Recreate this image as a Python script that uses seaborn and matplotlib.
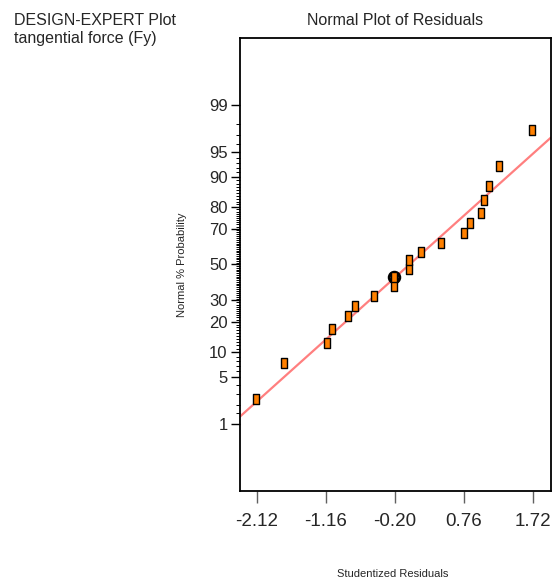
import numpy as np
import pandas as pd
import matplotlib
matplotlib.use("Agg")
import matplotlib.pyplot as plt
import seaborn as sns
from matplotlib.path import Path
from statistics import NormalDist

# studentized residuals (sorted) and their normal % probability
residuals = [-2.13, -1.74, -1.146, -1.077, -0.846, -0.757, -0.484, -0.214, -0.214, -0.001,
             -0.001, 0.170, 0.444, 0.760, 0.843, 1.005, 1.042, 1.108, 1.255, 1.706]
probability = [2.5, 7.5, 12.5, 17.5, 22.5, 27.5, 32.5, 37.5, 42.5, 47.5,
               52.5, 57.5, 62.5, 67.5, 72.5, 77.5, 82.5, 87.5, 92.5, 97.5]
highlight = 8  # circled run

# reference line end points
line_x = [-2.36, 1.975]
line_p = [1.31, 96.79]

x_ticks = [-2.12, -1.16, -0.20, 0.76, 1.72]
y_ticks = [1, 5, 10, 20, 30, 50, 70, 80, 90, 95, 99]
y_minor = [1.5, 2, 3, 4] + [p for p in range(6, 99) if p not in y_ticks]

sns.set_style("white")
plt.rcParams['font.family'] = ['Liberation Sans', 'DejaVu Sans']

nd = NormalDist()
_ppf = np.vectorize(lambda p: nd.inv_cdf(min(max(p / 100.0, 1e-9), 1 - 1e-9)), otypes=[float])
_cdf = np.vectorize(lambda z: nd.cdf(z) * 100.0, otypes=[float])


def fwd(p):
    return _ppf(np.asarray(p, dtype=float))


def inv(z):
    return _cdf(np.asarray(z, dtype=float))


df = pd.DataFrame({'res': residuals, 'prob': probability})
fit = pd.DataFrame({'res': line_x, 'prob': line_p})

fig = plt.figure(figsize=(5.55, 5.82), dpi=100)
ax = fig.add_axes([239.5 / 555, 91 / 582, 311.5 / 555, 453 / 582])
ax.set_yscale('function', functions=(fwd, inv))

rect = Path([(-0.62, -1), (0.62, -1), (0.62, 1), (-0.62, 1), (-0.62, -1)],
            [Path.MOVETO, Path.LINETO, Path.LINETO, Path.LINETO, Path.CLOSEPOLY])

sns.lineplot(data=fit, x='res', y='prob', ax=ax, color='#ff7f7f', linewidth=1.6,
             sort=False, estimator=None)
ax.plot(residuals[highlight], probability[highlight], marker='o', ms=7.5, mfc='none',
        mec='black', mew=2.2, zorder=3)
sns.scatterplot(data=df, x='res', y='prob', ax=ax, marker=rect, s=55,
                color='#ff8000', edgecolor='black', linewidth=1.0, zorder=4)

ax.set_xlim(-2.359, 1.975)
ax.set_ylim(0.0483, 99.9517)
ax.set_xticks(x_ticks)
ax.set_xticklabels([f"{t:.2f}" for t in x_ticks], fontsize=13.5)
ax.set_yticks(y_ticks)
ax.set_yticklabels([str(t) for t in y_ticks], fontsize=12)
ax.set_yticks(y_minor, minor=True)
ax.tick_params(axis='x', which='major', direction='out', length=8.5, width=1.0,
               color='#606060', pad=7, bottom=True)
ax.tick_params(axis='y', which='major', direction='out', length=6.5, width=1.0,
               color='black', pad=2, left=True)
ax.tick_params(axis='y', which='minor', direction='out', length=3.2, width=0.7,
               color='black', left=True)
ax.set_xlabel('')
ax.set_ylabel('')
for s in ax.spines.values():
    s.set_color('black')
    s.set_linewidth(1.3)

fig.text(14 / 555, 1 - 25 / 582, 'DESIGN-EXPERT Plot', fontsize=11.5, va='baseline')
fig.text(14 / 555, 1 - 43 / 582, 'tangential force (Fy)', fontsize=11.5, va='baseline')
fig.text(395 / 555, 1 - 25 / 582, 'Normal Plot of Residuals', fontsize=11.5,
         ha='center', va='baseline')
fig.text(182 / 555, 1 - 264.5 / 582, 'Normal % Probability', fontsize=8,
         rotation=90, ha='center', va='center')
fig.text(393 / 555, 1 - 577 / 582, 'Studentized Residuals', fontsize=8,
         ha='center', va='baseline')

fig.savefig('out.png', dpi=100)
